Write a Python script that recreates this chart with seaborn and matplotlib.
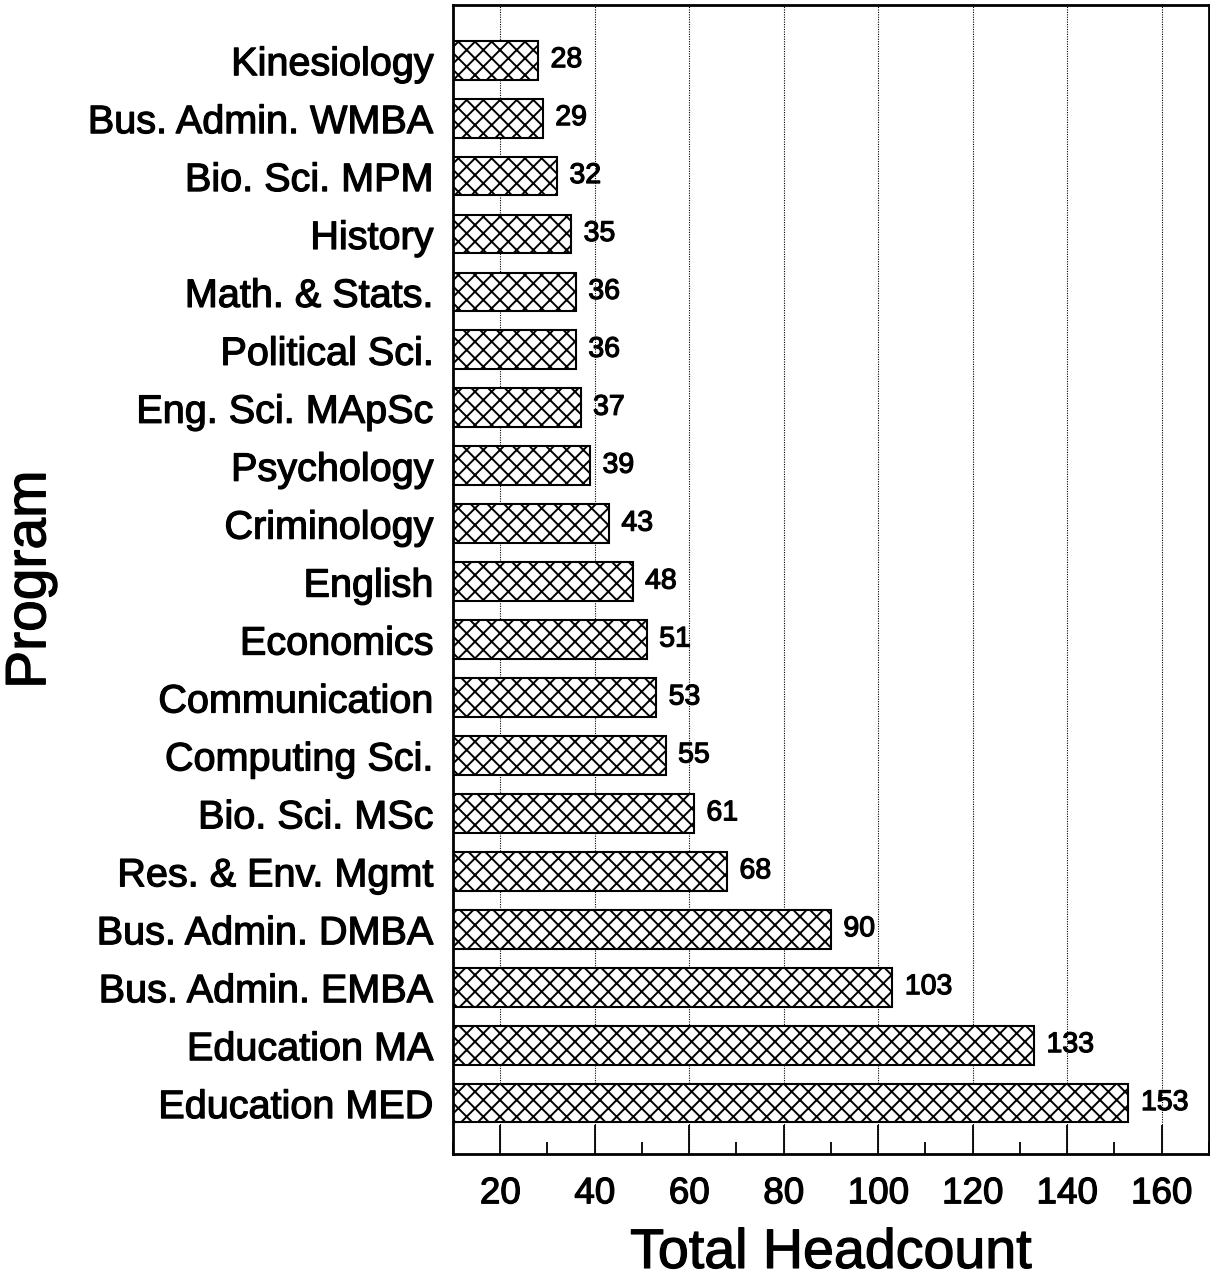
import matplotlib
matplotlib.use("Agg")
import matplotlib.pyplot as plt
import matplotlib.patheffects as pe
from matplotlib.ticker import MultipleLocator
import seaborn as sns
import pandas as pd

programs = ["Kinesiology", "Bus. Admin. WMBA", "Bio. Sci. MPM", "History",
            "Math. & Stats.", "Political Sci.", "Eng. Sci. MApSc", "Psychology",
            "Criminology", "English", "Economics", "Communication",
            "Computing Sci.", "Bio. Sci. MSc", "Res. & Env. Mgmt",
            "Bus. Admin. DMBA", "Bus. Admin. EMBA", "Education MA", "Education MED"]
headcount = [28, 29, 32, 35, 36, 36, 37, 39, 43, 48, 51, 53, 55, 61, 68, 90, 103, 133, 153]
x_ticks = [20, 40, 60, 80, 100, 120, 140, 160]

sns.set_style("ticks")
plt.rcParams["font.family"] = ["Liberation Sans", "DejaVu Sans"]
plt.rcParams["hatch.linewidth"] = 1.4
plt.rcParams["hatch.color"] = "black"
for k in ["text.color", "axes.labelcolor", "xtick.color", "ytick.color", "axes.edgecolor"]:
    plt.rcParams[k] = "black"

thick = [pe.withStroke(linewidth=0.9, foreground="black")]

df = pd.DataFrame({"Program": programs, "Total Headcount": headcount})

fig = plt.figure(figsize=(12.1, 12.79), dpi=100)
ax = fig.add_axes([0.3744, 0.0977, 0.6246, 0.8983])

sns.barplot(data=df, x="Total Headcount", y="Program", orient="h", ax=ax,
            color="white", edgecolor="black", linewidth=1.5, hatch="xx",
            width=0.67, saturation=1)

ax.set_xlim(10, 170)
ax.set_ylim(18.88, -0.95)
ax.set_xticks(x_ticks)
ax.xaxis.set_minor_locator(MultipleLocator(10))
ax.tick_params(axis="x", which="major", direction="in", length=21, width=1.3,
               labelsize=26.5, pad=16, top=False)
ax.tick_params(axis="x", which="minor", direction="in", length=8.5, width=1.3, top=False)
ax.tick_params(axis="y", which="both", length=0, labelsize=28.5, pad=14)

ax.set_axisbelow(True)
ax.grid(axis="x", which="major", linestyle=(0, (1, 1.2)), color="black", linewidth=0.8)
ax.grid(axis="y", visible=False)

for s in ax.spines.values():
    s.set_visible(True)
    s.set_linewidth(2)
    s.set_color("black")

for cont in ax.containers:
    ax.bar_label(cont, labels=[str(v) for v in headcount], padding=9, fontsize=20.5,
                 path_effects=thick)

ax.set_xlabel("Total Headcount", fontsize=40, labelpad=12)
ax.set_ylabel("Program", fontsize=41, labelpad=22)
for t in ax.get_xticklabels() + ax.get_yticklabels() + [ax.xaxis.label, ax.yaxis.label]:
    t.set_path_effects(thick)

fig.savefig("out.png", dpi=100)
